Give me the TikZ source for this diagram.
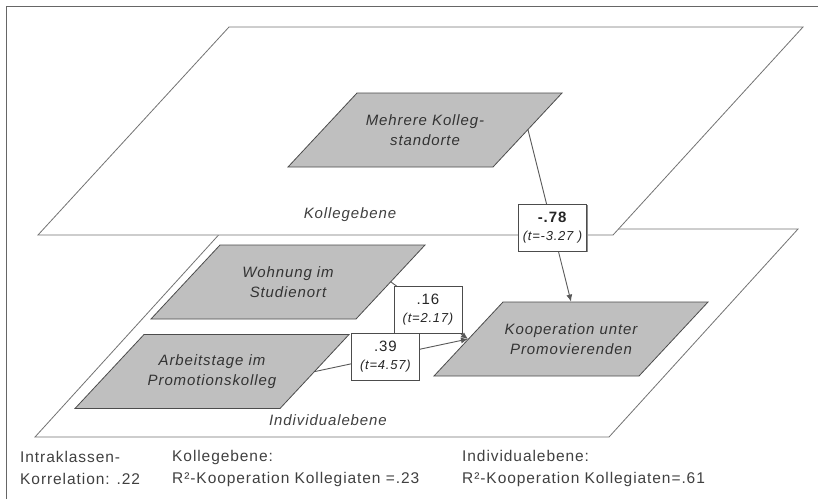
\documentclass[tikz,border=0pt]{standalone}
\usepackage{fontspec}
\setmainfont{Liberation Sans}[LetterSpace=6]
\usetikzlibrary{shapes.geometric,arrows.meta,positioning,shadows}
\tikzset{
ebene/.style={draw=black!55, fill=white, line width=0.8pt},
ebenentext/.style={inner sep=0pt, text=black!75,
  font=\fontsize{15}{18}\selectfont\itshape},
merkmal/.style={
  trapezium, trapezium left angle=47, trapezium right angle=133,
  trapezium stretches body,
  draw=black!70, fill=black!25, line width=0.8pt,
  inner xsep=0pt, inner ysep=37pt, minimum width=274pt
},
merkmaltext/.style={inner sep=0pt, align=center, text=black!80,
  font=\fontsize{15}{20}\selectfont\itshape},
koeff/.style={
  draw=black!70, fill=white, line width=0.6pt,
  minimum width=68pt, minimum height=47pt, inner sep=1pt,
  align=center, text=black!85,
  font=\fontsize{15}{18}\selectfont,
  drop shadow={shadow xshift=1pt, shadow yshift=-1pt, fill=black!45, opacity=1}
},
pfad/.style={draw=black!65, line width=0.9pt, ->, >={Latex[length=7pt,width=6pt]}},
fuss/.style={anchor=west, inner sep=0pt, align=left, text=black!75,
  font=\fontsize{15.5}{22}\selectfont},
}
\newcommand{\tval}[1]{{\fontsize{13}{18}\selectfont\itshape #1}}

\begin{document}
\begin{tikzpicture}[x=1pt,y=-1pt]
\useasboundingbox (0,0) rectangle (818,499);
\draw[black!60, line width=0.8pt] (6,499) -- (6,6) -- (818,6);

% Ebenen
\draw[ebene] (224,229) -- (798,229) -- (609,437) -- (35,437) -- cycle;
\draw[ebene] (229,27) -- (803,27) -- (613,235) -- (38,235) -- cycle;
\node[ebenentext] (kolleg) at (350,215) {Kollegebene};
\node[ebenentext] (indiv) at (328,420) {Individualebene};

\node[merkmal] (mehr) at (425,130) {};
\node[merkmal] (wohn) at (288,282) {};
\node[merkmal] (arb) at (212,371.5) {};
\node[merkmal] (koop) at (571,339) {};
\node[merkmaltext] (mehrtext) at (mehr) {Mehrere Kolleg-\\standorte};
\node[merkmaltext] (wohntext) at (wohn) {Wohnung im\\Studienort};
\node[merkmaltext] (arbtext) at (arb) {Arbeitstage im\\Promotionskolleg};
\node[merkmaltext] (kooptext) at (koop) {Kooperation unter\\Promovierenden};

\draw[pfad] (mehr.right side) -- node[koeff,pos=0.57] (kmehr) {\textbf{-.78}\\\tval{(t=-3.27 )}} (koop.north);
\draw[pfad] (wohn.right side) -- node[koeff,pos=0.48] (kwohn) {.16\\\tval{(t=2.17)}} (koop.left side);
\draw[pfad] (arb.right side) -- node[koeff,pos=0.46] (karb) {.39\\\tval{(t=4.57)}} (koop.left side);

% Fusszeile
\node[fuss] (icc) at (20,468) {Intraklassen-\\Korrelation: .22};
\node[fuss] (fkolleg) at (172,468) {Kollegebene:\\R²-Kooperation Kollegiaten =.23};
\node[fuss] (findiv) at (462,468) {Individualebene:\\R²-Kooperation Kollegiaten=.61};
\end{tikzpicture}
\end{document}
